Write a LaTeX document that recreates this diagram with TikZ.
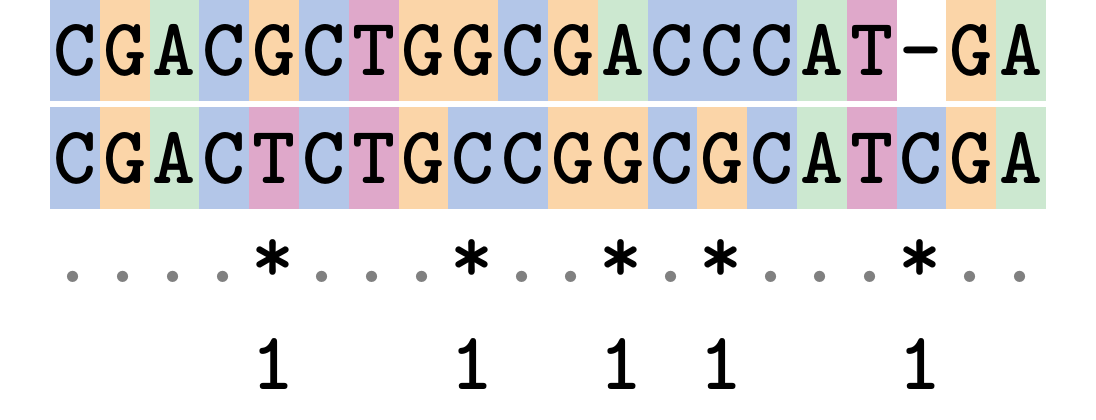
\documentclass[tikz,border=0pt]{standalone}
\definecolor{cA}{HTML}{CCE8D0}
\definecolor{cC}{HTML}{B3C6E8}
\definecolor{cG}{HTML}{FBD5A8}
\definecolor{cT}{HTML}{DFA8CA}
\definecolor{cN}{HTML}{FFFFFF}
\definecolor{dotgray}{HTML}{808080}
\begin{document}
\begin{tikzpicture}[x=1pt,y=-1pt,
  seqfont/.style={font=\fontsize{82}{82}\selectfont\ttfamily\bfseries},
  cell/.style={seqfont, minimum width=50pt, minimum height=101pt, inner sep=0pt, text height=50pt, text depth=0pt},
  sym/.style={seqfont, inner sep=0pt, anchor=base},
  dotsym/.style={sym, text=dotgray},
  starsym/.style={sym, text=black},
  numsym/.style={sym, text=black}]
\useasboundingbox (0,0) rectangle (1096,420);
\foreach \col/\ch [count=\i] in {C/C,G/G,A/A,C/C,G/G,C/C,T/T,G/G,G/G,C/C,G/G,A/A,C/C,C/C,C/C,A/A,T/T,N/-,G/G,A/A}
  \node[cell, fill=c\col] (t\i) at ({50+(\i-0.5)*49.8}, 51) {\ch};
\foreach \col [count=\i] in {C,G,A,C,T,C,T,G,C,C,G,G,C,G,C,A,T,C,G,A}
  \node[cell, fill=c\col] (b\i) at ({50+(\i-0.5)*49.8}, 158) {\col};
\foreach \s [count=\i] in {d,d,d,d,s,d,d,d,s,d,d,s,d,s,d,d,d,s,d,d}{
  \if\s d
    \node[dotsym] (m\i) at ({50+(\i-0.5)*49.8-1.5}, 282) {.};
  \else
    \node[starsym] (m\i) at ({50+(\i-0.5)*49.8-1.5}, 282) {*};
    \node[numsym] (n\i) at ({50+(\i-0.5)*49.8-1.5}, 389) {1};
  \fi
}
\end{tikzpicture}
\end{document}
